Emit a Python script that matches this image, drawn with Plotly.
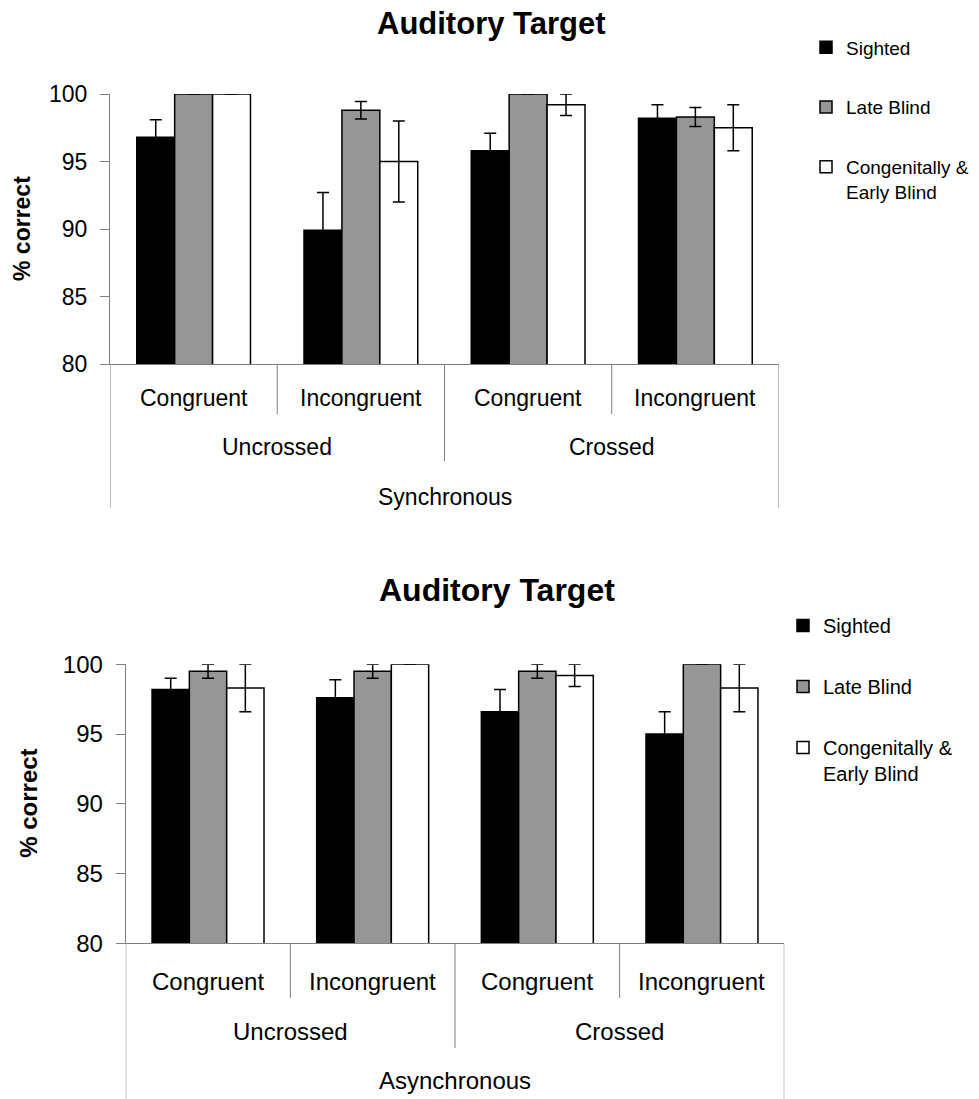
import plotly.graph_objects as go

W, H = 979, 1099
def X(px): return px / W
def Y(py): return 1 - py / H

# ---- data ----
categories = ["Uncrossed-Congruent", "Uncrossed-Incongruent", "Crossed-Congruent", "Crossed-Incongruent"]
cond_labels = ["Congruent", "Incongruent", "Congruent", "Incongruent"]
cross_labels = ["Uncrossed", "Crossed"]
timing_labels = ["Synchronous", "Asynchronous"]
group_names = ["Sighted", "Late Blind", "Congenitally &<br>Early Blind"]

sync_sighted = [96.8, 89.9, 95.8, 98.2]
sync_sighted_err = [1.3, 2.8, 1.3, 1.0]
sync_late = [100.0, 98.8, 100.0, 98.3]
sync_late_err = [0.0, 0.65, 0.0, 0.7]
sync_cong = [100.0, 95.0, 99.2, 97.5]
sync_cong_err = [0.0, 3.0, 0.8, 1.7]

async_sighted = [98.2, 97.6, 96.6, 95.0]
async_sighted_err = [0.8, 1.3, 1.6, 1.6]
async_late = [99.5, 99.5, 99.5, 100.0]
async_late_err = [0.5, 0.5, 0.5, 0.0]
async_cong = [98.3, 100.0, 99.2, 98.3]
async_cong_err = [1.7, 0.0, 0.8, 1.7]

colors = ["#000000", "#969696", "#ffffff"]
FONT = "Liberation Sans, Arial, sans-serif"
AXC = "#7f7f7f"

fig = go.Figure()

panels = [
    dict(vals=[sync_sighted, sync_late, sync_cong],
         errs=[sync_sighted_err, sync_late_err, sync_cong_err],
         xa="x", ya="y", legend="legend"),
    dict(vals=[async_sighted, async_late, async_cong],
         errs=[async_sighted_err, async_late_err, async_cong_err],
         xa="x2", ya="y2", legend="legend2"),
]

for p in panels:
    for name, v, e, c in zip(group_names, p["vals"], p["errs"], colors):
        fig.add_trace(go.Bar(
            x=categories, y=v, name=name, xaxis=p["xa"], yaxis=p["ya"],
            legend=p["legend"], legendgroup=p["legend"] + name,
            marker=dict(color=c, line=dict(color="#000000", width=1.5)),
            error_y=dict(type="data", array=e, visible=True, color="#000000",
                         thickness=1.5, width=6),
            cliponaxis=False,
        ))

# geometry of the two panels (pixels)
geo = [
    dict(l=110, r=779, t=94, b=364, fs=23, title_y=23, title_fs=31,
         lab_x=22, rows=[398, 447, 497], ends=[414, 461, 508]),
    dict(l=125.7, r=784.3, t=664.3, b=943.3, fs=24, title_y=590, title_fs=32,
         lab_x=29, rows=[981.5, 1031.5, 1080], ends=[998, 1048, 1099]),
]

layout = dict(
    width=W, height=H, margin=dict(l=0, r=0, t=0, b=0, autoexpand=False),
    paper_bgcolor="white", plot_bgcolor="white",
    barmode="group", bargap=0.32, bargroupgap=0,
    font=dict(family=FONT, color="#000000"),
)
annotations = []
shapes = []
for i, g in enumerate(geo):
    xs = "xaxis" if i == 0 else "xaxis2"
    ys = "yaxis" if i == 0 else "yaxis2"
    xr = "x" if i == 0 else "x2"
    yr = "y" if i == 0 else "y2"
    layout[xs] = dict(domain=[X(g["l"]), X(g["r"])], anchor=yr, type="category",
                      categoryorder="array", categoryarray=categories,
                      showticklabels=False, ticks="", showline=True,
                      linecolor=AXC, linewidth=1, showgrid=False, zeroline=False,
                      range=[-0.5, 3.5])
    layout[ys] = dict(domain=[Y(g["b"]), Y(g["t"])], anchor=xr, range=[80, 100],
                      tickvals=[80, 85, 90, 95, 100], ticks="outside", ticklen=9,
                      tickcolor=AXC, showline=True, linecolor=AXC, linewidth=1,
                      showgrid=False, zeroline=False,
                      tickfont=dict(size=g["fs"], family=FONT),
                      ticklabelstandoff=8)
    # title
    annotations.append(dict(text="<b>Auditory Target</b>", x=X(491 if i == 0 else 497),
                            y=Y(g["title_y"]), xref="paper", yref="paper",
                            showarrow=False, font=dict(size=g["title_fs"], family=FONT),
                            xanchor="center", yanchor="middle"))
    # y title
    annotations.append(dict(text="<b>% correct</b>", x=X(g["lab_x"]),
                            y=Y((g["t"] + g["b"]) / 2), xref="paper", yref="paper",
                            showarrow=False, textangle=-90,
                            font=dict(size=g["fs"], family=FONT),
                            xanchor="center", yanchor="middle"))
    # level 1 labels
    for cat, lab in zip(categories, cond_labels):
        annotations.append(dict(text=lab, x=cat, xref=xr, y=Y(g["rows"][0]),
                                yref="paper", showarrow=False,
                                font=dict(size=g["fs"], family=FONT),
                                xanchor="center", yanchor="middle"))
    # level 2 labels
    for k, lab in enumerate(cross_labels):
        annotations.append(dict(text=lab, x=0.5 + 2 * k, xref=xr, y=Y(g["rows"][1]),
                                yref="paper", showarrow=False,
                                font=dict(size=g["fs"], family=FONT),
                                xanchor="center", yanchor="middle"))
    # level 3 label
    annotations.append(dict(text=timing_labels[i], x=1.5, xref=xr, y=Y(g["rows"][2]),
                            yref="paper", showarrow=False,
                            font=dict(size=g["fs"], family=FONT),
                            xanchor="center", yanchor="middle"))
    # separator lines
    for xv, end in [(-0.5, g["ends"][2]), (0.5, g["ends"][0]), (1.5, g["ends"][1]),
                    (2.5, g["ends"][0]), (3.5, g["ends"][2])]:
        shapes.append(dict(type="line", xref=xr, yref="paper", x0=xv, x1=xv,
                           y0=Y(g["b"]), y1=Y(end), line=dict(color=AXC, width=1)))

layout["annotations"] = annotations
layout["shapes"] = shapes
layout["legend"] = dict(x=X(806), y=Y(28.5), xanchor="left", yanchor="top",
                        font=dict(size=19, family=FONT), traceorder="grouped",
                        tracegroupgap=32, valign="top", bgcolor="rgba(0,0,0,0)")
layout["legend2"] = dict(x=X(783), y=Y(606), xanchor="left", yanchor="top",
                         font=dict(size=20, family=FONT), traceorder="grouped",
                         tracegroupgap=32, valign="top", bgcolor="rgba(0,0,0,0)")
fig.update_layout(**layout)

fig.write_html("out.html", config={"displayModeBar": False},
               post_script="document.body.style.margin='0';document.body.style.overflow='hidden';")
